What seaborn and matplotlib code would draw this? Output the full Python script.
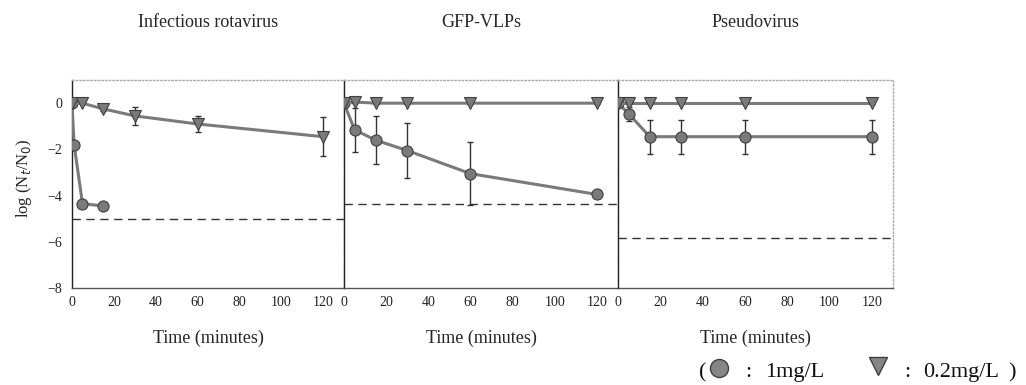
import numpy as np
import pandas as pd
import matplotlib.pyplot as plt
from matplotlib.lines import Line2D
import seaborn as sns

# panel titles and sample times
titles = ['Infectious rotavirus', 'GFP-VLPs', 'Pseudovirus']

# Infectious rotavirus
rota_t_hi = [0, 1, 5, 15]
rota_y_hi = [0, -1.8, -4.35, -4.45]
rota_e_hi = [0, 0, 0, 0]
rota_t_lo = [0, 5, 15, 30, 60, 120]
rota_y_lo = [0, 0, -0.25, -0.55, -0.9, -1.45]
rota_e_lo = [0, 0, 0.1, 0.4, 0.35, 0.85]
rota_limit = -5.0

# GFP-VLPs
vlp_t_hi = [0, 5, 15, 30, 60, 120]
vlp_y_hi = [0, -1.15, -1.6, -2.05, -3.05, -3.95]
vlp_e_hi = [0, 0.95, 1.05, 1.2, 1.35, 0.1]
vlp_t_lo = [0, 5, 15, 30, 60, 120]
vlp_y_lo = [0, 0.05, 0, 0, 0, 0]
vlp_e_lo = [0, 0.05, 0.05, 0.05, 0.05, 0.05]
vlp_limit = -4.35

# Pseudovirus
pseudo_t_hi = [0, 5, 15, 30, 60, 120]
pseudo_y_hi = [0, -0.45, -1.45, -1.45, -1.45, -1.45]
pseudo_e_hi = [0, 0.3, 0.73, 0.73, 0.73, 0.73]
pseudo_t_lo = [0, 5, 15, 30, 60, 120]
pseudo_y_lo = [0, 0, 0, 0, 0, 0]
pseudo_e_lo = [0, 0.05, 0.05, 0.05, 0.05, 0.05]
pseudo_limit = -5.85

panels = [
    (rota_t_hi, rota_y_hi, rota_e_hi, rota_t_lo, rota_y_lo, rota_e_lo, rota_limit),
    (vlp_t_hi, vlp_y_hi, vlp_e_hi, vlp_t_lo, vlp_y_lo, vlp_e_lo, vlp_limit),
    (pseudo_t_hi, pseudo_y_hi, pseudo_e_hi, pseudo_t_lo, pseudo_y_lo, pseudo_e_lo, pseudo_limit),
]

sns.set_style('white')
plt.rcParams['font.family'] = ['Liberation Serif', 'DejaVu Serif']

fig = plt.figure(figsize=(10.26, 3.85), dpi=100)
lefts = [0.0702, 0.3353, 0.6023]
widths = [0.265, 0.267, 0.268]
mfc = '#858585'
mec = '#404040'

for i, (th, yh, eh, tl, yl, el, lim) in enumerate(panels):
    ax = fig.add_axes([lefts[i], 0.252, widths[i], 0.540])
    df = pd.DataFrame({
        'time': th + tl,
        'logN': yh + yl,
        'dose': ['1mg/L'] * len(th) + ['0.2mg/L'] * len(tl),
    })
    # error bars first so markers sit on top
    ax.errorbar(th, yh, yerr=eh, fmt='none', ecolor='#333333', elinewidth=1, capsize=2.5, zorder=1)
    ax.errorbar(tl, yl, yerr=el, fmt='none', ecolor='#333333', elinewidth=1, capsize=2.5, zorder=1)
    sns.lineplot(data=df, x='time', y='logN', hue='dose', style='dose',
                 markers={'1mg/L': 'o', '0.2mg/L': 'v'}, dashes=False,
                 palette={'1mg/L': '#7a7a7a', '0.2mg/L': '#7a7a7a'},
                 markersize=8, markeredgecolor=mec, markeredgewidth=0.8,
                 linewidth=2.2, legend=False, ax=ax, zorder=3)
    ax.axhline(lim, color='#333333', linestyle=(0, (6, 4)), linewidth=1)
    ax.set_xlim(0, 130)
    ax.set_ylim(-8, 1)
    ax.set_xticks([0, 20, 40, 60, 80, 100, 120])
    ax.set_yticks([0, -2, -4, -6, -8])
    ax.tick_params(axis='both', labelsize=10, direction='in', length=3, width=0.8, colors='#222222')
    ax.tick_params(axis='x', pad=6)
    ax.tick_params(axis='y', pad=7)
    if i > 0:
        ax.set_yticklabels([])
        ax.set_ylabel('')
    else:
        ax.set_ylabel('log (N$_t$/N$_0$)', fontsize=12)
        ax.yaxis.set_label_coords(-0.14, 0.53)
    ax.set_xlabel('Time (minutes)', fontsize=13, labelpad=15)
    ax.set_title(titles[i], fontsize=13, pad=38)
    for side in ['top', 'right']:
        ax.spines[side].set_color('#aaaaaa')
        ax.spines[side].set_linestyle(':')
        ax.spines[side].set_linewidth(1)
    ax.spines['left'].set_color('#222222')
    ax.spines['left'].set_linewidth(1)
    ax.spines['bottom'].set_color('#555555')
    ax.spines['bottom'].set_linewidth(1)

# legend line under the panels: ( ● : 1mg/L   ▼ : 0.2mg/L )
W, H = 1026, 385
base = (H - 377) / H
fs = 16
fig.text(699 / W, base, '(', fontsize=fs, va='baseline', color='#111111')
fig.add_artist(Line2D([719 / W], [(H - 368) / H], transform=fig.transFigure, marker='o',
                      markersize=13, markerfacecolor=mfc, markeredgecolor=mec, linestyle='none'))
fig.text(748 / W, base, ':', fontsize=fs, va='baseline', ha='center', color='#111111')
fig.text(765 / W, base, '1mg/L', fontsize=fs, va='baseline', color='#111111')
fig.add_artist(Line2D([878 / W], [(H - 366) / H], transform=fig.transFigure, marker='v',
                      markersize=13, markerfacecolor=mfc, markeredgecolor=mec, linestyle='none'))
fig.text(907 / W, base, ':', fontsize=fs, va='baseline', ha='center', color='#111111')
fig.text(923 / W, base, '0.2mg/L', fontsize=fs, va='baseline', color='#111111')
fig.text(1008 / W, base, ')', fontsize=fs, va='baseline', color='#111111')

fig.savefig('out.png', dpi=100)
